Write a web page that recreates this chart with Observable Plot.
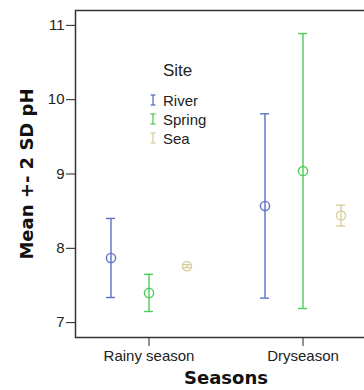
<!DOCTYPE html>
<html>
<head>
<meta charset="utf-8">
<script src="https://cdn.jsdelivr.net/npm/d3@7"></script>
<script src="https://cdn.jsdelivr.net/npm/@observablehq/plot@0.6"></script>
<style>
  html, body { margin: 0; padding: 0; background: #fff; overflow: hidden; }
  #chart svg { max-width: none !important; }
</style>
</head>
<body>
<div id="chart"></div>
<script>
// pH by season and site: mean with a bar spanning mean ± 2 SD
const seasons = ["Rainy season", "Dryseason"];
const sites = ["River", "Spring", "Sea"];
const siteColors = ["#5b70c4", "#4ccc5a", "#d8cf9e"];

// mean pH per season, one array per site
const riverMean = [7.87, 8.57];
const springMean = [7.40, 9.04];
const seaMean = [7.76, 8.44];

// standard deviation per season
const riverSD = [0.266, 0.62];
const springSD = [0.125, 0.925];
const seaSD = [0.01, 0.07];

const yTicks = [7, 8, 9, 10, 11];

const means = {River: riverMean, Spring: springMean, Sea: seaMean};
const sds = {River: riverSD, Spring: springSD, Sea: seaSD};

const rows = sites.flatMap(site => seasons.map((season, i) => ({
  site,
  season,
  mean: means[site][i],
  lo: means[site][i] - 2 * sds[site][i],
  hi: means[site][i] + 2 * sds[site][i]
})));

const sans = "'Liberation Sans', Arial, sans-serif";
const bold = "'DejaVu Sans', sans-serif";
const ink = "#222";
const offset = 38; // horizontal gap between sites within a season
const siteMarks = sites.flatMap((site, k) => {
  const data = rows.filter(d => d.site === site);
  const dx = (k - 1) * offset;
  return [
    Plot.ruleX(data, {x: "season", y1: "lo", y2: "hi", stroke: "site", strokeWidth: 1.4, dx}),
    Plot.tickY(data, {x: "season", y: "hi", stroke: "site", strokeWidth: 1.4, dx}),
    Plot.tickY(data, {x: "season", y: "lo", stroke: "site", strokeWidth: 1.4, dx}),
    Plot.dot(data, {x: "season", y: "mean", r: 4.6, stroke: "site", strokeWidth: 1.4, fill: "none", dx})
  ];
});

// legend drawn inside the plot area
function legend() {
  const g = d3.create("svg:g")
    .attr("font-family", sans)
    .attr("text-anchor", "start")
    .attr("fill", ink);
  const lx = 153, ty = 76, y0 = 100, step = 19;
  g.append("text").attr("x", lx + 10).attr("y", ty).attr("font-size", 17).text("Site");
  sites.forEach((s, i) => {
    const cy = y0 + i * step;
    const c = siteColors[i];
    const gi = g.append("g").attr("stroke", c).attr("stroke-width", 1.3);
    gi.append("line").attr("x1", lx).attr("x2", lx).attr("y1", cy - 5).attr("y2", cy + 5);
    gi.append("line").attr("x1", lx - 2.5).attr("x2", lx + 2.5).attr("y1", cy - 5).attr("y2", cy - 5);
    gi.append("line").attr("x1", lx - 2.5).attr("x2", lx + 2.5).attr("y1", cy + 5).attr("y2", cy + 5);
    g.append("text").attr("x", lx + 10).attr("y", cy + 5.5).attr("font-size", 15).text(s);
  });
  return g.node();
}

const chart = Plot.plot({
  width: 376,
  height: 390,
  marginLeft: 75,
  marginRight: 0,
  marginTop: 10,
  marginBottom: 53,
  style: {fontFamily: sans, fontSize: "15px", color: ink, background: "#fff"},
  x: {type: "band", domain: seasons, paddingInner: 0.942, paddingOuter: 0.442, label: null, tickSize: 9, tickPadding: 4},
  y: {domain: [6.8, 11.2], ticks: yTicks, tickFormat: d3.format("d"), label: null, tickSize: 9, tickPadding: 2},
  color: {domain: sites, range: siteColors},
  marks: [
    Plot.frame({stroke: "#333", strokeWidth: 1.5}),
    ...siteMarks,
    Plot.text(["Mean +- 2 SD pH"], {frameAnchor: "left", textAnchor: "middle", lineAnchor: "middle", dx: -48, rotate: -90, fontSize: 18, fontWeight: "bold", fill: "#111", fontFamily: bold}),
    Plot.text(["Seasons"], {frameAnchor: "bottom", textAnchor: "middle", lineAnchor: "middle", dy: 41, fontSize: 18, fontWeight: "bold", fill: "#111", fontFamily: bold}),
    legend
  ]
});
document.getElementById("chart").appendChild(chart);
</script>
</body>
</html>
